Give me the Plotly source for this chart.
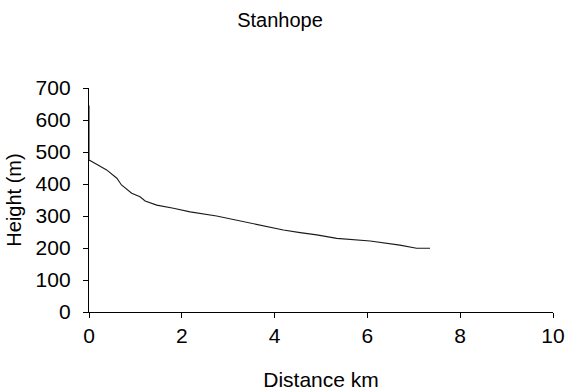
import plotly.graph_objects as go

distance_km = [0.0, 0.0, 0.06, 0.38, 0.60, 0.70, 0.92, 1.10, 1.21, 1.46, 1.82, 2.18,
               2.75, 3.47, 4.19, 4.55, 4.91, 5.34, 5.63, 6.06, 6.70, 7.06, 7.35]
height_m = [645, 475, 470, 444, 418, 397, 371, 360, 347, 334, 324, 313,
            300, 279, 256, 248, 241, 230, 227, 222, 209, 199, 199]

x_ticks = [0, 2, 4, 6, 8, 10]
y_ticks = [0, 100, 200, 300, 400, 500, 600, 700]

font_family = "Liberation Sans, Arial, sans-serif"

fig = go.Figure()
fig.add_trace(go.Scatter(x=distance_km, y=height_m, mode="lines",
                         line=dict(color="#1a1a1a", width=1.1), showlegend=False))

fig.update_layout(
    width=569, height=392,
    margin=dict(l=89, r=16, t=88, b=80, autoexpand=False),
    paper_bgcolor="white", plot_bgcolor="white",
    font=dict(family=font_family, color="black"),
    title=dict(text="Stanhope", x=0.492, xanchor="center", y=0.949, yanchor="middle",
               font=dict(size=20, family=font_family, color="black")),
    xaxis=dict(range=[0, 10], tickvals=x_ticks, showgrid=False, zeroline=False,
               showline=True, linecolor="black", linewidth=1.3,
               ticks="outside", ticklen=5, tickcolor="black",
               tickfont=dict(size=21), title=dict(text="Distance km", font=dict(size=21), standoff=25)),
    yaxis=dict(range=[0, 700], tickvals=y_ticks, showgrid=False, zeroline=False,
               showline=True, linecolor="black", linewidth=1.3,
               ticks="outside", ticklen=5, tickcolor="black", ticklabelstandoff=8,
               tickfont=dict(size=21), title=dict(text="Height (m)", font=dict(size=20), standoff=8)),
)

# remove the default 8px page margin so the figure fills the window exactly
fig.write_html("out.html", config={"displayModeBar": False},
               post_script="document.body.style.margin='0px';")
